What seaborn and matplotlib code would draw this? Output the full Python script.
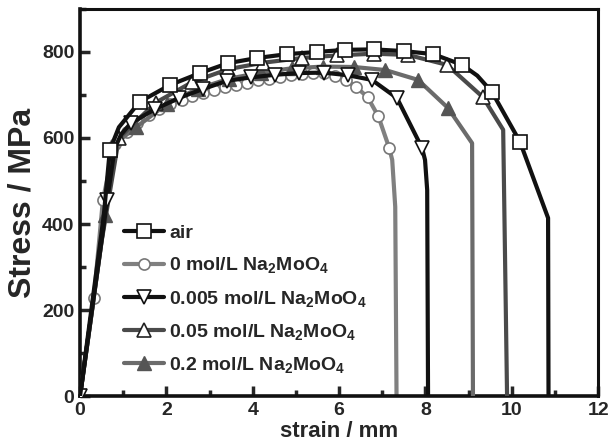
import matplotlib
matplotlib.use("Agg")
import matplotlib.pyplot as plt
from matplotlib.ticker import MultipleLocator
import seaborn as sns

# strain (mm) / stress (MPa)
air_x = [0, 0.30, 0.55, 0.69, 0.90, 1.38, 2.08, 2.78, 3.43, 4.10, 4.80, 5.49, 6.14, 6.81,
         7.50, 8.18, 8.85, 9.20, 9.54, 10.19, 10.84, 10.85]
air_y = [0, 230, 420, 572, 625, 684, 723, 751, 774, 786, 795, 800, 805, 806,
         802, 795, 770, 745, 707, 591, 414, 0]

m0_x = [0, 0.32, 0.53, 0.80, 1.08, 1.33, 1.59, 1.84, 2.09, 2.35, 2.60, 2.85, 3.11, 3.36, 3.61,
        3.87, 4.12, 4.37, 4.63, 4.88, 5.13, 5.39, 5.64, 5.90, 6.15, 6.40, 6.66, 6.91, 7.16,
        7.23, 7.30, 7.33]
m0_y = [0, 228, 456, 585, 614, 636, 653, 667, 679, 689, 698, 705, 712, 718, 724,
        729, 734, 738, 742, 746, 749, 751, 750, 745, 735, 718, 695, 650, 577,
        549, 440, 0]

m005_x = [0, 0.63, 0.80, 0.95, 1.18, 1.74, 2.29, 2.85, 3.41, 3.97, 4.52, 5.08, 5.64, 6.20,
          6.76, 7.34, 7.92, 7.99, 8.04, 8.06]
m005_y = [0, 456, 575, 608, 635, 667, 693, 714, 733, 741, 747, 751, 752, 746,
          735, 693, 577, 549, 479, 0]

m05_x = [0, 0.50, 0.90, 1.75, 2.60, 3.43, 4.24, 5.14, 5.95, 6.81, 7.60, 8.50, 9.33,
         9.80, 9.89]
m05_y = [0, 360, 600, 682, 730, 760, 775, 786, 792, 796, 793, 770, 695,
         619, 0]

m2_x = [0, 0.58, 0.85, 1.30, 2.02, 2.74, 3.46, 4.18, 4.90, 5.63, 6.35, 7.07, 7.83, 8.52,
        9.08, 9.10]
m2_y = [0, 420, 590, 625, 680, 715, 738, 752, 762, 766, 765, 758, 735, 670,
        588, 0]

labels = ["air", "0 mol/L Na$_{2}$MoO$_{4}$", "0.005 mol/L Na$_{2}$MoO$_{4}$",
          "0.05 mol/L Na$_{2}$MoO$_{4}$", "0.2 mol/L Na$_{2}$MoO$_{4}$"]

sns.set_style("ticks")
plt.rcParams["font.family"] = ["Liberation Sans", "DejaVu Sans"]
plt.rcParams["font.weight"] = "bold"
plt.rcParams["mathtext.fontset"] = "custom"
plt.rcParams["mathtext.rm"] = "Liberation Sans:bold"
plt.rcParams["mathtext.default"] = "rm"

fig = plt.figure(figsize=(6.11, 4.48), dpi=100)
ax = fig.add_axes([0.131, 0.116, 0.848, 0.864])

lw = 3
# circles at the bottom, air on top
sns.lineplot(x=m0_x, y=m0_y, sort=False, estimator=None, ax=ax, color="#808080", lw=lw,
             marker="o", ms=8, mfc="white", mec="#777777", mew=1.2,
             markevery=list(range(1, 29)), label=labels[1], zorder=2)
sns.lineplot(x=m2_x, y=m2_y, sort=False, estimator=None, ax=ax, color="#6b6b6b", lw=lw,
             marker="^", ms=10, mfc="#555555", mec="#555555", mew=1.0,
             markevery=[1, 3, 4, 5, 6, 7, 8, 9, 10, 11, 12, 13], label=labels[4], zorder=3)
sns.lineplot(x=m05_x, y=m05_y, sort=False, estimator=None, ax=ax, color="#4a4a4a", lw=lw,
             marker="^", ms=10, mfc="white", mec="#222222", mew=1.2,
             markevery=list(range(2, 13)), label=labels[3], zorder=4)
sns.lineplot(x=m005_x, y=m005_y, sort=False, estimator=None, ax=ax, color="#111111", lw=lw,
             marker="v", ms=10, mfc="white", mec="#111111", mew=1.2,
             markevery=[0, 1] + list(range(4, 17)), label=labels[2], zorder=5)
sns.lineplot(x=air_x, y=air_y, sort=False, estimator=None, ax=ax, color="#111111", lw=lw,
             marker="s", ms=9.5, mfc="white", mec="#111111", mew=1.2,
             markevery=[3] + list(range(5, 17)) + [18, 19], label=labels[0], zorder=6)

ax.set_xlim(0, 12)
ax.set_ylim(0, 900)
ax.xaxis.set_major_locator(MultipleLocator(2))
ax.xaxis.set_minor_locator(MultipleLocator(1))
ax.set_yticks([0, 200, 400, 600, 800])
ax.yaxis.set_minor_locator(MultipleLocator(100))
ax.tick_params(which="major", direction="in", length=7, width=2.5, labelsize=14, pad=4)
ax.tick_params(which="minor", direction="in", length=4, width=2.5)
for lab in ax.get_xticklabels() + ax.get_yticklabels():
    lab.set_fontweight("bold")
for side in ["left", "bottom"]:
    ax.spines[side].set_linewidth(2.6)
for side in ["top", "right"]:
    ax.spines[side].set_linewidth(2.2)
    ax.spines[side].set_visible(True)
for s in ax.spines.values():
    s.set_color("#111111")

ax.set_xlabel("strain / mm", fontsize=16, fontweight="bold", labelpad=2)
ax.set_ylabel("Stress / MPa", fontsize=23, fontweight="bold", labelpad=3)

h, l = ax.get_legend_handles_labels()
order = [l.index(t) for t in labels]
ax.legend([h[i] for i in order], [l[i] for i in order], loc="upper left",
          bbox_to_anchor=(0.059, 0.478), frameon=False,
          handlelength=2.05, handletextpad=0.25, labelspacing=0.68, borderpad=0.2,
          prop={"weight": "bold", "size": 14})

fig.savefig("out.png", dpi=100)
